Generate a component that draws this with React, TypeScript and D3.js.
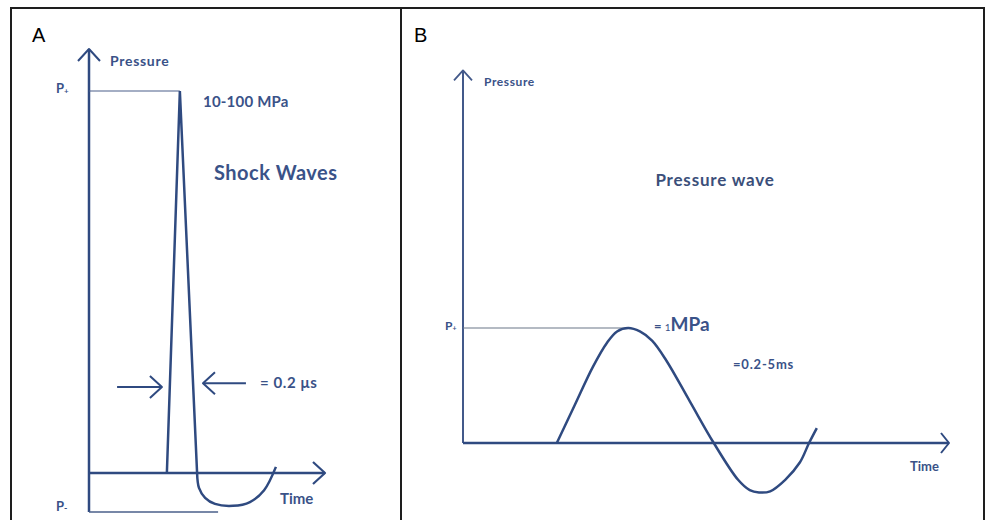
import { useEffect, useRef } from "react";
import * as d3 from "d3";

// Panel A: shock wave (time in arbitrary units, pressure with P+ = 10)
const shockSpike: [number, number][] = [[33, 0], [38.5, 10], [45.8, 0]];
const shockTail: [number, number][] = [
  [45.8, 0], [46.6, -0.39], [49.2, -0.65], [53.4, -0.81], [61, -0.86],
  [68.2, -0.76], [74.2, -0.45], [79.2, 0.16],
];
const shockPeak = 10;
const shockMin = -1.02;
const shockWidthArrows = [
  { from: 11.9, to: 30.9, level: 2.25 },
  { from: 66.5, to: 48.3, level: 2.35 },
];

// Panel B: pressure wave (time in arbitrary units, pressure in MPa)
const pressureWave: [number, number][] = [
  [1.93, 0], [2.3, 0.33], [2.67, 0.66], [2.96, 0.87], [3.17, 0.97], [3.4, 1.0],
  [3.64, 0.97], [3.89, 0.89], [4.18, 0.72], [4.67, 0.36], [5.16, 0],
  [5.66, -0.32], [5.9, -0.41], [6.09, -0.43], [6.32, -0.42], [6.63, -0.32],
  [6.93, -0.17], [7.12, 0], [7.28, 0.13],
];
const wavePeak = 1;
const wavePeakTime = 3.4;

const NAVY = "#2f4a80";
const LABEL = "#3a5288";
const FONT = "Lato, 'Open Sans', sans-serif";

export default function App() {
  const ref = useRef<SVGSVGElement>(null);

  useEffect(() => {
    const svg = d3.select(ref.current);
    svg.selectAll("*").remove();

    svg.append("rect").attr("width", 986).attr("height", 520).attr("fill", "#fff");

    // frame + divider
    svg.append("rect")
      .attr("x", 11).attr("y", 8).attr("width", 973).attr("height", 530)
      .attr("fill", "none").attr("stroke", "#1e1e1e").attr("stroke-width", 2);
    svg.append("line")
      .attr("x1", 401).attr("x2", 401).attr("y1", 8).attr("y2", 520)
      .attr("stroke", "#1e1e1e").attr("stroke-width", 2);

    svg.append("text").attr("x", 32).attr("y", 42).text("A")
      .attr("font-family", "'Liberation Sans', Arial, sans-serif").attr("font-size", 20);
    svg.append("text").attr("x", 414).attr("y", 42).text("B")
      .attr("font-family", "'Liberation Sans', Arial, sans-serif").attr("font-size", 20);

    const chevron = (g: any, x: number, y: number, dir: "up" | "right" | "left", w: number, h: number, color: string, sw: number) => {
      let d = "";
      if (dir === "up") d = `M${x - w},${y + h}L${x},${y}L${x + w},${y + h}`;
      if (dir === "right") d = `M${x - h},${y - w}L${x},${y}L${x - h},${y + w}`;
      if (dir === "left") d = `M${x + h},${y - w}L${x},${y}L${x + h},${y + w}`;
      g.append("path").attr("d", d).attr("fill", "none").attr("stroke", color)
        .attr("stroke-width", sw).attr("stroke-linejoin", "round");
    };

    const label = (g: any, x: number, y: number, txt: string, size: number, spacing = 0, color = LABEL, anchor = "start") =>
      g.append("text").attr("x", x).attr("y", y).text(txt)
        .attr("font-family", FONT).attr("font-weight", 700)
        .attr("letter-spacing", spacing)
        .attr("font-size", size).attr("fill", color).attr("text-anchor", anchor);

    // ---------- Panel A ----------
    const xA = d3.scaleLinear().domain([0, 100]).range([89, 325]);
    const yA = d3.scaleLinear().domain([0, 10]).range([473, 91]);
    const gA = svg.append("g");

    // axes
    gA.append("line").attr("x1", xA(0)).attr("x2", xA(0))
      .attr("y1", yA(shockMin)).attr("y2", yA(11.1))
      .attr("stroke", NAVY).attr("stroke-width", 2.5);
    chevron(gA, xA(0), yA(11.1), "up", 11, 12, NAVY, 2);
    gA.append("line").attr("x1", xA(0)).attr("x2", xA(100))
      .attr("y1", yA(0)).attr("y2", yA(0))
      .attr("stroke", NAVY).attr("stroke-width", 2.5);
    chevron(gA, xA(100), yA(0), "right", 11, 12, NAVY, 2.2);

    // reference levels
    gA.append("line").attr("x1", xA(0)).attr("x2", xA(shockSpike[1][0]))
      .attr("y1", yA(shockPeak)).attr("y2", yA(shockPeak))
      .attr("stroke", "#4a5f8a").attr("stroke-width", 1.2);
    gA.append("line").attr("x1", xA(0)).attr("x2", xA(54.7))
      .attr("y1", yA(shockMin)).attr("y2", yA(shockMin))
      .attr("stroke", "#4a5f8a").attr("stroke-width", 1.5);

    const lineA = d3.line<[number, number]>().x(d => xA(d[0])).y(d => yA(d[1]));
    gA.append("path").attr("d", lineA(shockSpike))
      .attr("fill", "none").attr("stroke", NAVY).attr("stroke-width", 2.5)
      .attr("stroke-linejoin", "miter");
    gA.append("path").attr("d", lineA.curve(d3.curveCatmullRom)(shockTail))
      .attr("fill", "none").attr("stroke", NAVY).attr("stroke-width", 2.5);

    // width arrows
    shockWidthArrows.forEach(a => {
      gA.append("line").attr("x1", xA(a.from)).attr("x2", xA(a.to))
        .attr("y1", yA(a.level)).attr("y2", yA(a.level))
        .attr("stroke", NAVY).attr("stroke-width", 2);
      chevron(gA, xA(a.to), yA(a.level), a.to > a.from ? "right" : "left", 11, 12, NAVY, 2);
    });

    label(gA, 110, 66, "Pressure", 14, 0.7);
    const pp = label(gA, 56, 93, "P", 13);
    pp.append("tspan").attr("font-size", 8).attr("dy", 1).text("+");
    const pm = label(gA, 56, 511, "P", 13);
    pm.append("tspan").attr("font-size", 9).attr("dy", 0).text("-");
    label(gA, 203, 107, "10-100 MPa", 15, 0.2);
    label(gA, 214, 180, "Shock Waves", 20, 0.5);
    label(gA, 260, 388, "= 0.2 μs", 15, 0.6);
    label(gA, 280, 504, "Time", 15);

    // ---------- Panel B ----------
    const xB = d3.scaleLinear().domain([0, 10]).range([463, 949]);
    const yB = d3.scaleLinear().domain([0, 1]).range([443, 328]);
    const gB = svg.append("g");
    const axisB = "#43598a";

    gB.append("line").attr("x1", xB(0)).attr("x2", xB(0))
      .attr("y1", yB(0)).attr("y2", yB(3.24))
      .attr("stroke", axisB).attr("stroke-width", 2);
    chevron(gB, xB(0), yB(3.24), "up", 9, 10, axisB, 1.8);
    gB.append("line").attr("x1", xB(0)).attr("x2", xB(10))
      .attr("y1", yB(0)).attr("y2", yB(0))
      .attr("stroke", NAVY).attr("stroke-width", 2.5);
    chevron(gB, xB(10), yB(0), "right", 10, 8, NAVY, 2);

    gB.append("line").attr("x1", xB(0)).attr("x2", xB(wavePeakTime))
      .attr("y1", yB(wavePeak)).attr("y2", yB(wavePeak))
      .attr("stroke", "#6a7688").attr("stroke-width", 1.2);

    const lineB = d3.line<[number, number]>().x(d => xB(d[0])).y(d => yB(d[1])).curve(d3.curveCatmullRom.alpha(0.5));
    gB.append("path").attr("d", lineB(pressureWave))
      .attr("fill", "none").attr("stroke", NAVY).attr("stroke-width", 2.5);

    label(gB, 484, 86, "Pressure", 12, 0.6);
    label(gB, 715, 186, "Pressure wave", 17, 0.8, "#3b4f7a", "middle");
    const bp = label(gB, 445, 330, "P", 12);
    bp.append("tspan").attr("font-size", 7).attr("dy", 1).text("+");
    const mpa = label(gB, 654, 331, "= ", 13);
    mpa.append("tspan").attr("font-size", 10).attr("font-weight", 400).text("1");
    mpa.append("tspan").attr("font-size", 19).attr("font-weight", 700).text("MPa");
    label(gB, 733, 369, "=0.2-5ms", 13, 0.8);
    label(gB, 910, 471, "Time", 13);
  }, []);

  return (
    <div style={{ position: "fixed", left: 0, top: 0 }}>
      <svg ref={ref} width={986} height={520} style={{ display: "block" }} />
    </div>
  );
}
